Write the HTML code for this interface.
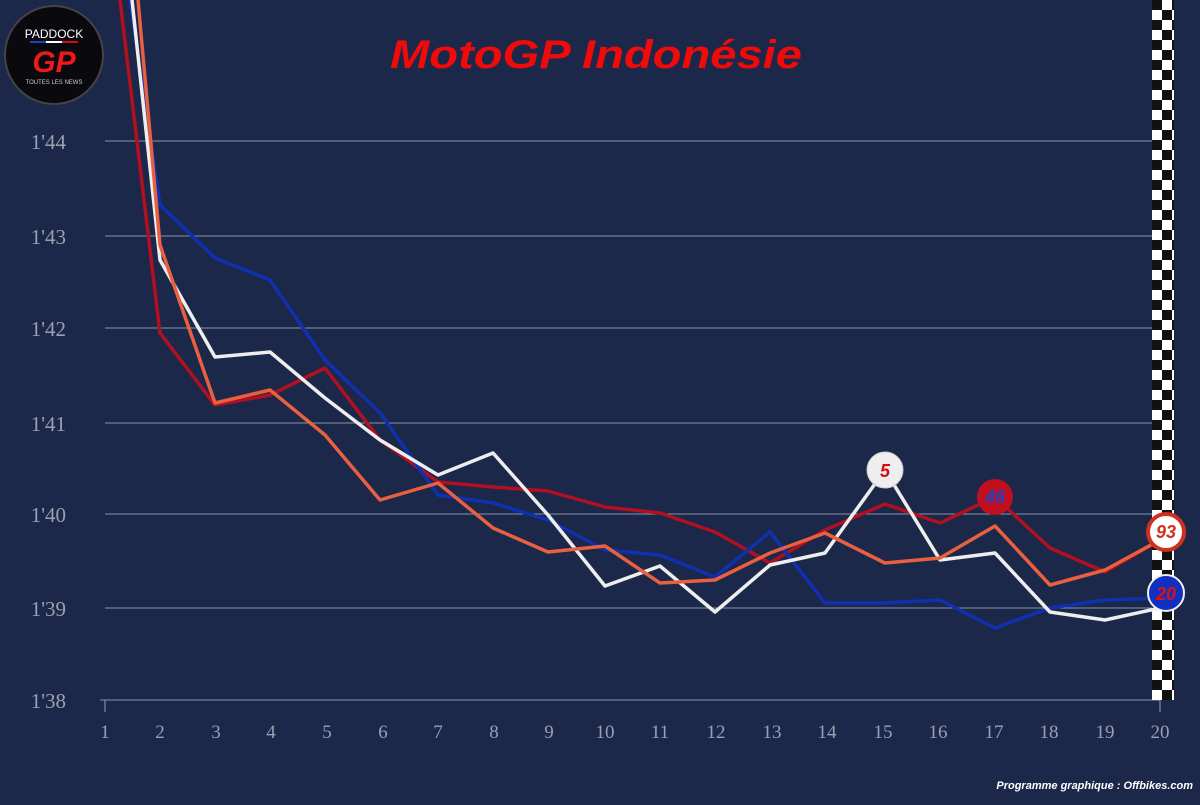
<!DOCTYPE html>
<html><head><meta charset="utf-8"><style>
body{margin:0;width:1200px;height:800px;overflow:hidden;background:#1b2849;font-family:"Liberation Sans",sans-serif}
</style></head><body>
<svg width="1200" height="800" xmlns="http://www.w3.org/2000/svg">
<rect width="1200" height="800" fill="#1b2849"/>
<defs><pattern id="ck" width="20" height="20" patternUnits="userSpaceOnUse" x="1152" y="0">
<rect width="20" height="20" fill="#fff"/><rect width="10" height="10" fill="#111"/><rect x="10" y="10" width="10" height="10" fill="#111"/></pattern></defs>
<g stroke="#8a93a8" stroke-width="1">
<line x1="105" y1="141" x2="1160" y2="141"/><line x1="105" y1="236" x2="1160" y2="236"/>
<line x1="105" y1="328" x2="1160" y2="328"/><line x1="105" y1="423" x2="1160" y2="423"/>
<line x1="105" y1="514" x2="1160" y2="514"/><line x1="105" y1="608" x2="1160" y2="608"/>
<line x1="100" y1="700" x2="1160" y2="700"/>
</g>
<rect x="1152" y="0" width="22" height="700" fill="url(#ck)"/>
<g fill="#9aa0b0" font-size="21" text-anchor="end" font-family="Liberation Serif, serif">
<text x="66" y="149">1'44</text><text x="66" y="244">1'43</text><text x="66" y="336">1'42</text>
<text x="66" y="431">1'41</text><text x="66" y="522">1'40</text><text x="66" y="616">1'39</text><text x="66" y="708">1'38</text>
</g>
<g fill="#9aa0b0" font-size="19" text-anchor="middle" font-family="Liberation Serif, serif">
<text x="105" y="738">1</text><text x="160" y="738">2</text><text x="216" y="738">3</text><text x="271" y="738">4</text><text x="327" y="738">5</text><text x="383" y="738">6</text><text x="438" y="738">7</text><text x="494" y="738">8</text><text x="549" y="738">9</text><text x="605" y="738">10</text><text x="660" y="738">11</text><text x="716" y="738">12</text><text x="772" y="738">13</text><text x="827" y="738">14</text><text x="883" y="738">15</text><text x="938" y="738">16</text><text x="994" y="738">17</text><text x="1049" y="738">18</text><text x="1105" y="738">19</text><text x="1160" y="738">20</text>
</g>
<g stroke="#9aa0b0"><line x1="105" y1="700" x2="105" y2="712"/><line x1="1160" y1="700" x2="1160" y2="712"/></g>
<g fill="none" stroke-width="3.5" stroke-linejoin="round">
<polyline stroke="#b01020" points="120,0 160,333 215,405 270,395 325,368 380,440 438,482 493,487 548,491 605,507 660,513 715,532 770,563 825,530 885,504 940,523 995,497 1050,548 1105,572 1160,540"/>
<polyline stroke="#1030b0" points="130,0 160,205 215,258 270,280 325,360 380,413 438,495 493,503 548,520 605,550 660,555 715,577 770,532 825,603 885,603 940,600 995,628 1050,608 1105,600 1160,598"/>
<polyline stroke="#eeeeee" points="132,0 160,260 215,357 270,352 325,398 380,440 438,475 493,453 548,515 605,586 660,566 715,612 770,565 825,553 885,470 940,560 995,553 1050,612 1105,620 1160,608"/>
<polyline stroke="#e86040" points="138,0 160,245 215,403 270,390 325,435 380,500 438,483 493,528 548,552 605,546 660,583 715,580 770,553 825,533 885,563 940,558 995,526 1050,585 1105,570 1160,540"/>
</g>
<g font-weight="bold" font-style="italic" text-anchor="middle" font-size="18">
<circle cx="885" cy="470" r="18" fill="#eee" stroke="#ccc"/><text x="885" y="477" fill="#d01010">5</text>
<circle cx="995" cy="497" r="18" fill="#c01020"/><text x="995" y="503" fill="#2040c0">46</text>
<circle cx="1166" cy="532" r="18" fill="#fff" stroke="#d03020" stroke-width="4"/><text x="1166" y="538" fill="#d03020">93</text>
<circle cx="1166" cy="593" r="18" fill="#1030c0" stroke="#eee" stroke-width="2"/><text x="1166" y="600" fill="#e01010">20</text>
</g>
<circle cx="54" cy="55" r="49" fill="#0a0a0e" stroke="#444" stroke-width="2"/>
<text x="54" y="38" fill="#fff" font-size="12" text-anchor="middle">PADDOCK</text>
<rect x="30" y="41" width="16" height="2" fill="#2040c0"/><rect x="46" y="41" width="16" height="2" fill="#fff"/><rect x="62" y="41" width="16" height="2" fill="#d01010"/>
<text x="54" y="72" fill="#f01818" font-size="30" font-weight="bold" font-style="italic" text-anchor="middle">GP</text>
<text x="54" y="84" fill="#ccc" font-size="6" text-anchor="middle">TOUTES LES NEWS</text>
<text x="390" y="68" fill="#f00a0a" font-size="40" font-weight="bold" font-style="italic" textLength="412" lengthAdjust="spacingAndGlyphs">MotoGP Indonésie</text>
<text x="1193" y="789" fill="#fff" font-size="11" font-weight="bold" font-style="italic" text-anchor="end">Programme graphique : Offbikes.com</text>
</svg>
</body></html>
